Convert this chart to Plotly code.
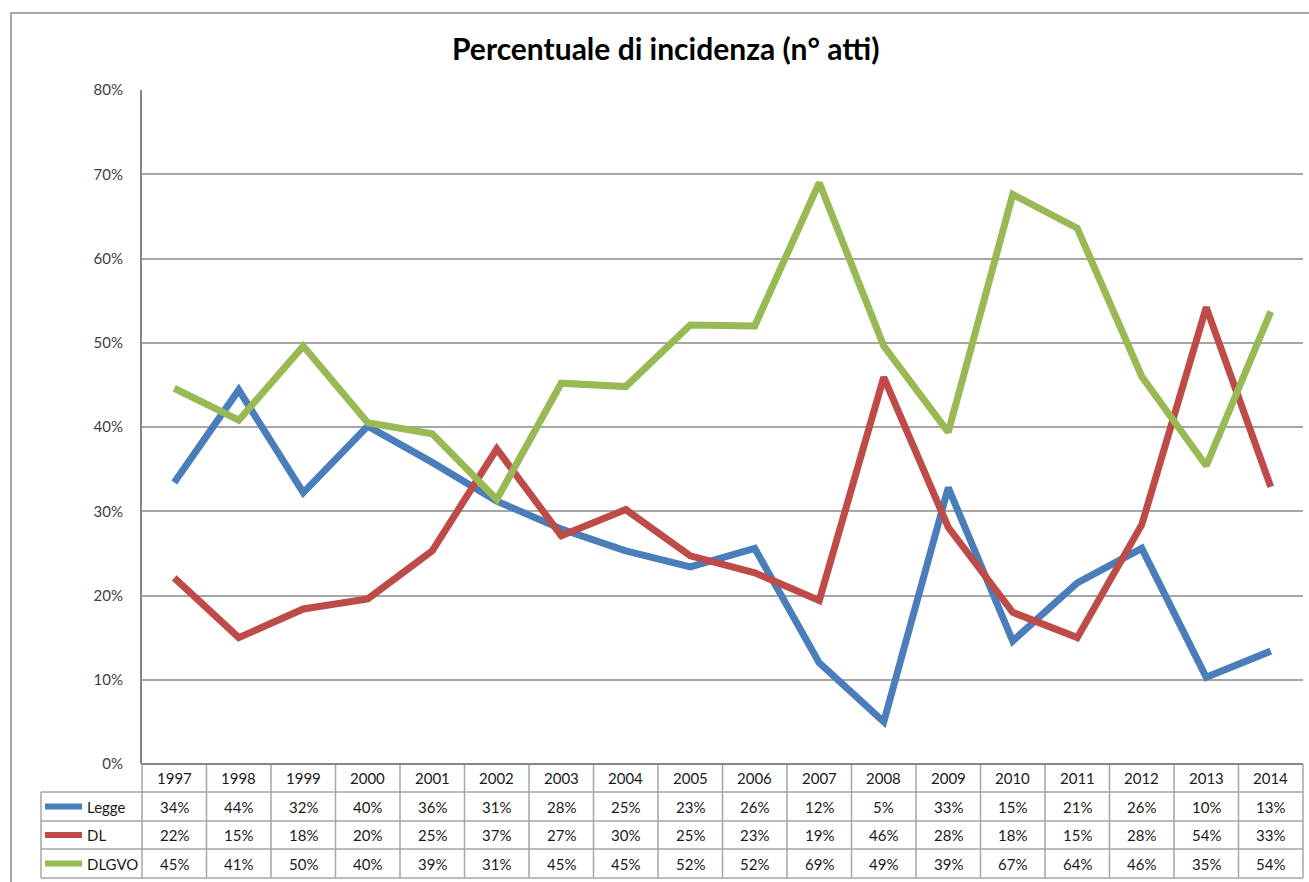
import plotly.graph_objects as go

years = [str(y) for y in range(1997, 2015)]

# values as plotted, in %
legge_line = [33.4, 44.4, 32.2, 40.1, 35.8, 31.2, 27.9, 25.3, 23.4, 25.6, 12.0, 5.0, 32.8, 14.6, 21.5, 25.6, 10.3, 13.4]
dl_line = [22.1, 15.0, 18.4, 19.6, 25.3, 37.4, 27.1, 30.2, 24.7, 22.7, 19.4, 45.9, 28.1, 18.0, 15.0, 28.4, 54.2, 32.9]
dlgvo_line = [44.6, 40.8, 49.6, 40.5, 39.2, 31.4, 45.2, 44.8, 52.1, 52.0, 69.0, 49.6, 39.4, 67.6, 63.6, 46.0, 35.4, 53.7]

# values as printed in the data table, in %
legge_table = [34, 44, 32, 40, 36, 31, 28, 25, 23, 26, 12, 5, 33, 15, 21, 26, 10, 13]
dl_table = [22, 15, 18, 20, 25, 37, 27, 30, 25, 23, 19, 46, 28, 18, 15, 28, 54, 33]
dlgvo_table = [45, 41, 50, 40, 39, 31, 45, 45, 52, 52, 69, 49, 39, 67, 64, 46, 35, 54]

series_names = ["Legge", "DL", "DLGVO"]
colors = ["#4a7ebb", "#be4b48", "#98b954"]
line_values = [legge_line, dl_line, dlgvo_line]
table_values = [legge_table, dl_table, dlgvo_table]

W, H = 1309, 882
L, R, T, B = 142, 6, 90, 118
pw, ph = W - L - R, H - T - B

def px(x):
    return (x - L) / pw

def py(y):
    return (H - B - y) / ph

FONT = "Lato"

fig = go.Figure()
for name, vals, c in zip(series_names, line_values, colors):
    fig.add_trace(go.Scatter(
        x=years, y=[v / 100 for v in vals], mode="lines", name=name,
        line=dict(color=c, width=7), showlegend=False, hoverinfo="x+y+name"))

shapes = []
annotations = []

# outer frame + top band
shapes.append(dict(type="rect", xref="paper", yref="paper", x0=px(-5), x1=px(W + 5), y0=py(0), y1=py(-5),
                   fillcolor="#dcdcdc", line=dict(width=0), layer="below"))
shapes.append(dict(type="path", xref="paper", yref="paper",
                   path=f"M {px(11)} {py(H + 5)} L {px(11)} {py(13)} L {px(W + 5)} {py(13)}",
                   line=dict(color="#a8a8a8", width=2)))

# data table: columns follow the category axis slots
n = len(years)
def col_center(i):
    return (i + 0.5) / n

row_tops = [764, 792, 821, 849, 878]
grid_c = "#a6a6a6"
for i in range(n + 1):
    xp = i / n
    shapes.append(dict(type="line", xref="paper", yref="paper", x0=xp, x1=xp,
                       y0=py(row_tops[0]), y1=py(row_tops[-1]), line=dict(color=grid_c, width=1.5)))
shapes.append(dict(type="line", xref="paper", yref="paper", x0=px(41), x1=px(41),
                   y0=py(row_tops[1]), y1=py(row_tops[-1]), line=dict(color=grid_c, width=1.5)))
for k, yy in enumerate(row_tops):
    x0 = 0 if k == 0 else px(41)
    shapes.append(dict(type="line", xref="paper", yref="paper", x0=x0, x1=1,
                       y0=py(yy), y1=py(yy), line=dict(color=grid_c if k else "#868686", width=1.5 if k else 2)))

tfont = dict(family=FONT, size=15, color="#1a1a1a")
for i, yr in enumerate(years):
    annotations.append(dict(x=col_center(i), xref="paper", y=py((row_tops[0] + row_tops[1]) / 2), yref="paper",
                            text=yr, showarrow=False, font=tfont, xanchor="center", yanchor="middle"))
for r, (name, vals, c) in enumerate(zip(series_names, table_values, colors)):
    yc = py((row_tops[r + 1] + row_tops[r + 2]) / 2)
    shapes.append(dict(type="line", xref="paper", yref="paper", x0=px(45), x1=px(82), y0=yc, y1=yc,
                       line=dict(color=c, width=6)))
    annotations.append(dict(x=px(85), xref="paper", y=yc, yref="paper", text=name, showarrow=False,
                            font=tfont, xanchor="left", yanchor="middle"))
    for i, v in enumerate(vals):
        annotations.append(dict(x=col_center(i), xref="paper", y=yc, yref="paper", text=f"{v}%", showarrow=False,
                                font=tfont, xanchor="center", yanchor="middle"))

# title
annotations.append(dict(x=px(665), xref="paper", y=py(48), yref="paper",
                        text="<b>Percentuale di incidenza (n° atti)</b>",
                        showarrow=False, font=dict(family=FONT, size=30, color="#000000"),
                        xanchor="center", yanchor="middle"))

fig.update_layout(
    width=W, height=H,
    margin=dict(l=L, r=R, t=T, b=B, pad=0),
    paper_bgcolor="white", plot_bgcolor="white",
    shapes=shapes, annotations=annotations,
    xaxis=dict(type="category", range=[-0.5, n - 0.5], showticklabels=False, showgrid=False,
               showline=False, zeroline=False, fixedrange=True),
    yaxis=dict(range=[0, 0.8], dtick=0.1, tick0=0, tickformat=".0%", showgrid=True, gridcolor="#a6a6a6",
               gridwidth=1.5, showline=True, linecolor="#868686", linewidth=2, zeroline=False,
               ticks="", ticklabelstandoff=14, tickfont=dict(family=FONT, size=15, color="#404040"),
               fixedrange=True),
)

fig.write_html("out.html", config={"displayModeBar": False},
               post_script="document.body.style.margin='0';document.body.style.overflow='hidden';")
